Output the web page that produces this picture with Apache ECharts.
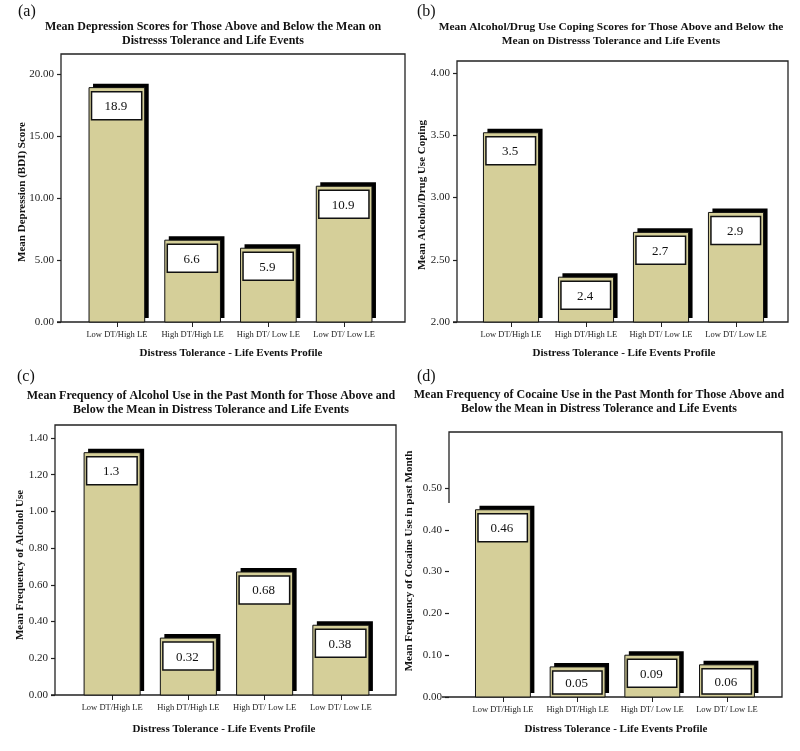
<!DOCTYPE html>
<html><head><meta charset="utf-8">
<script src="https://cdn.jsdelivr.net/npm/echarts@6/dist/echarts.min.js"></script>
<style>html,body{margin:0;padding:0;background:#fff}#c{width:800px;height:751px}</style>
</head><body><div id="c"></div><script>
// ---- data ----
const categories = ['Low DT/High LE', 'High DT/High LE', 'High DT/ Low LE', 'Low DT/ Low LE'];

const depressionValues = [18.9, 6.6, 5.95, 10.95];
const depressionLabels = ['18.9', '6.6', '5.9', '10.9'];
const depressionTicks = [0, 5, 10, 15, 20];

const copingValues = [3.52, 2.36, 2.72, 2.88];
const copingLabels = ['3.5', '2.4', '2.7', '2.9'];
const copingTicks = [2.0, 2.5, 3.0, 3.5, 4.0];

const alcoholValues = [1.32, 0.31, 0.67, 0.38];
const alcoholLabels = ['1.3', '0.32', '0.68', '0.38'];
const alcoholTicks = [0, 0.2, 0.4, 0.6, 0.8, 1.0, 1.2, 1.4];

const cocaineValues = [0.448, 0.072, 0.10, 0.077];
const cocaineLabels = ['0.46', '0.05', '0.09', '0.06'];
const cocaineTicks = [0, 0.1, 0.2, 0.3, 0.4, 0.5];

const xTitle = 'Distress Tolerance - Life Events Profile';

// ---- layout ----
const SERIF = '"Liberation Serif", "DejaVu Serif", serif';
const panels = [
  { letter: '(a)', lx: 18, ly: 12, tfs: 12,
    title: 'Mean Depression Scores for Those Above and Below the Mean on\nDistresss Tolerance and Life Events', tx: 213, ty: 34,
    yTitle: 'Mean Depression (BDI) Score', ytx: 22, yty: 192,
    values: depressionValues, labels: depressionLabels, ticks: depressionTicks,
    grid: { left: 79, top: 74, width: 303, height: 248 }, offset: 18,
    frame: [[61, 322], [61, 54], [405, 54], [405, 322], [57, 322]], xtx: 231, xty: 353 },
  { letter: '(b)', lx: 417, ly: 12, tfs: 11.4,
    title: 'Mean Alcohol/Drug Use Coping Scores for Those Above and Below the\nMean on Distresss Tolerance and Life Events', tx: 611, ty: 34,
    yTitle: 'Mean Alcohol/Drug Use Coping', ytx: 422, yty: 195,
    values: copingValues, labels: copingLabels, ticks: copingTicks,
    grid: { left: 473.5, top: 73, width: 300, height: 249 }, offset: 16.5,
    frame: [[457, 322], [457, 61], [788, 61], [788, 322], [453, 322]], xtx: 624, xty: 353 },
  { letter: '(c)', lx: 17, ly: 377, tfs: 12,
    title: 'Mean Frequency of Alcohol Use in the Past Month for Those Above and\nBelow the Mean in Distress Tolerance and Life Events', tx: 211, ty: 403,
    yTitle: 'Mean Frequency of Alcohol Use', ytx: 20, yty: 565,
    values: alcoholValues, labels: alcoholLabels, ticks: alcoholTicks,
    grid: { left: 74, top: 438, width: 305, height: 257 }, offset: 19,
    frame: [[55, 695], [55, 425], [396, 425], [396, 695], [51, 695]], xtx: 224, xty: 729 },
  { letter: '(d)', lx: 417, ly: 377, tfs: 12,
    title: 'Mean Frequency of Cocaine Use in the Past Month for Those Above and\nBelow the Mean in Distress Tolerance and Life Events', tx: 599, ty: 402,
    yTitle: 'Mean Frequency of Cocaine Use in past Month', ytx: 409, yty: 561,
    values: cocaineValues, labels: cocaineLabels, ticks: cocaineTicks,
    grid: { left: 465.6, top: 488, width: 298.7, height: 209 }, offset: 16.6,
    frame: [[449, 503], [449, 432], [782, 432], [782, 697], [442, 697]], xtx: 616, xty: 729 }
];

const grids = [], xAxes = [], yAxes = [], series = [], graphics = [];
panels.forEach((p, i) => {
  const yMin = p.ticks[0], yMax = p.ticks[p.ticks.length - 1];
  grids.push(Object.assign({ containLabel: false }, p.grid));
  xAxes.push({
    type: 'category', gridIndex: i, data: categories, boundaryGap: true,
    axisLine: { show: false },
    axisTick: { show: true, alignWithLabel: true, length: 5, lineStyle: { color: '#222', width: 1 } },
    axisLabel: { fontSize: 8.5, fontFamily: SERIF, color: '#222', margin: 8, interval: 0 },
    splitLine: { show: false }
  });
  yAxes.push({
    type: 'value', gridIndex: i, min: yMin, max: yMax, offset: p.offset,
    axisLine: { show: false },
    axisTick: { show: true, length: 4, customValues: p.ticks, lineStyle: { color: '#222', width: 1.2 } },
    axisLabel: { customValues: p.ticks, fontSize: 11, fontFamily: SERIF, color: '#222', margin: 7,
      formatter: v => Number(v).toFixed(2) },
    splitLine: { show: false }
  });
  const labels = p.labels;
  series.push({
    type: 'custom', xAxisIndex: i, yAxisIndex: i,
    data: p.values.map((v, k) => [k, v]),
    renderItem: function (params, api) {
      const idx = api.value(0), v = api.value(1);
      const top = api.coord([idx, v]);
      const base = api.coord([idx, yMin]);
      const bw = api.size([1, 0])[0] * 0.735;
      const x = top[0] - bw / 2;
      const h = base[1] - top[1];
      const boxH = Math.min(28, h - 7);
      return { type: 'group', children: [
        { type: 'rect', shape: { x: x + 4, y: top[1] - 4, width: bw, height: h }, style: { fill: '#000' } },
        { type: 'rect', shape: { x: x, y: top[1], width: bw, height: h }, style: { fill: '#d5cf99', stroke: '#111', lineWidth: 1 } },
        { type: 'rect', shape: { x: x + 2.5, y: top[1] + 4, width: bw - 5.5, height: boxH }, style: { fill: '#fff', stroke: '#111', lineWidth: 1.5 } },
        { type: 'text', x: x + bw / 2 - 1, y: top[1] + 4 + boxH / 2 + 1,
          style: { text: labels[params.dataIndex], align: 'center', verticalAlign: 'middle', fontSize: 13, fontFamily: SERIF, fill: '#111' } }
      ] };
    }
  });
  graphics.push({ type: 'polyline', shape: { points: p.frame }, style: { fill: null, stroke: '#222', lineWidth: 1.3 }, z: 1 });
  graphics.push({ type: 'text', x: p.lx, y: p.ly, style: { text: p.letter, fontSize: 16, fontFamily: SERIF, fill: '#111', align: 'left', verticalAlign: 'middle' } });
  graphics.push({ type: 'text', x: p.tx, y: p.ty, style: { text: p.title, fontSize: p.tfs, fontWeight: 'bold', lineHeight: 14, fontFamily: SERIF, fill: '#111', align: 'center', verticalAlign: 'middle' } });
  graphics.push({ type: 'text', x: p.ytx, y: p.yty, rotation: Math.PI / 2, style: { text: p.yTitle, fontSize: 11, fontWeight: 'bold', fontFamily: SERIF, fill: '#111', align: 'center', verticalAlign: 'middle' } });
  graphics.push({ type: 'text', x: p.xtx, y: p.xty, style: { text: xTitle, fontSize: 11, fontWeight: 'bold', fontFamily: SERIF, fill: '#111', align: 'center', verticalAlign: 'middle' } });
});

const chart = echarts.init(document.getElementById('c'), null, { renderer: 'canvas' });
chart.setOption({
  backgroundColor: '#fff',
  animation: false,
  grid: grids, xAxis: xAxes, yAxis: yAxes, series: series,
  graphic: graphics
});
</script></body></html>
